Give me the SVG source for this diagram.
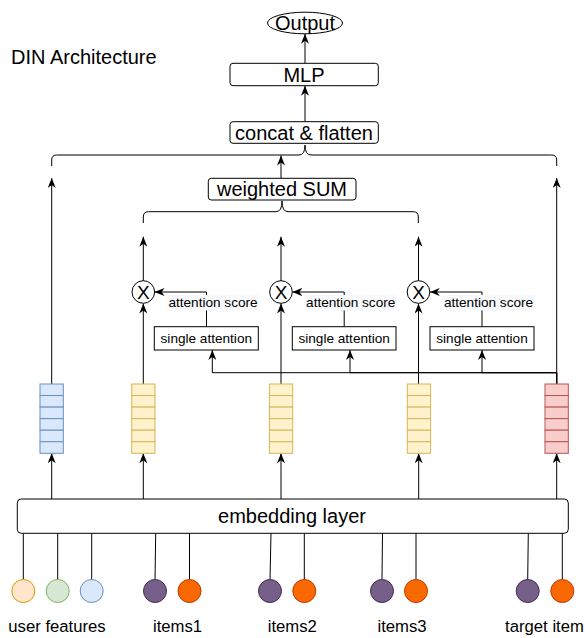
<svg xmlns="http://www.w3.org/2000/svg" width="585" height="638" viewBox="0 0 585 638">
<defs>
<marker id="arr" viewBox="0 0 10 8" markerWidth="10" markerHeight="8" refX="10" refY="4" orient="auto" markerUnits="userSpaceOnUse"><path d="M0,0 L10,4 L0,8 L3,4 Z" fill="#000"/></marker>
<style>
text{font-family:"Liberation Sans",Arial,sans-serif;fill:#000}
.big{font-size:20px;text-anchor:middle}
.sm{font-size:13.6px;text-anchor:middle}
.lbl{font-size:16.7px;text-anchor:middle}
.box{fill:#fff;stroke:#000;stroke-width:1}
.edge{fill:none;stroke:#000;stroke-width:1}
.ar{marker-end:url(#arr)}
.lbg{fill:#f8f9fa;stroke:none}
.otimes{fill:#fff;stroke:#000;stroke-width:1}
</style>
<g id="cells">
<rect x="0" y="0" width="23.3" height="11.55"/>
<rect x="0" y="11.55" width="23.3" height="11.55"/>
<rect x="0" y="23.1" width="23.3" height="11.55"/>
<rect x="0" y="34.65" width="23.3" height="11.55"/>
<rect x="0" y="46.2" width="23.3" height="11.55"/>
<rect x="0" y="57.75" width="23.3" height="11.55"/>
</g>
</defs>
<rect width="585" height="638" fill="#fff"/>

<g id="connectors">
<!-- top chain -->
<line class="edge ar" x1="305" y1="63.3" x2="305" y2="33.8"/>
<line class="edge ar" x1="305" y1="121.7" x2="305" y2="85.7"/>
<path class="edge" d="M51.7,166 L51.7,160 Q51.7,155 56.7,155 L299,155 Q305,155 305,145 Q305,155 311,155 L551.7,155 Q556.7,155 556.7,160 L556.7,166"/>
<line class="edge ar" x1="281" y1="178.3" x2="281" y2="155.5"/>
<path class="edge" d="M143.3,223 L143.3,217 Q143.3,211.7 148.3,211.7 L276,211.7 Q282,211.7 282,201 Q282,211.7 288,211.7 L413.3,211.7 Q418.3,211.7 418.3,217 L418.3,223"/>
<!-- side lines -->
<line class="edge ar" x1="51.7" y1="384" x2="51.7" y2="178"/>
<line class="edge ar" x1="556.7" y1="384" x2="556.7" y2="178"/>
<!-- otimes up arrows -->
<line class="edge ar" x1="143.3" y1="281" x2="143.3" y2="236.7"/>
<line class="edge ar" x1="281" y1="281" x2="281" y2="236.7"/>
<line class="edge ar" x1="418.5" y1="281" x2="418.5" y2="236.7"/>
<!-- vectors to otimes -->
<line class="edge ar" x1="143.3" y1="384" x2="143.3" y2="303.5"/>
<line class="edge ar" x1="281" y1="384" x2="281" y2="303.5"/>
<line class="edge ar" x1="418.5" y1="384" x2="418.5" y2="303.5"/>
<!-- attention score arrows -->
<path class="edge ar" d="M206.5,326.7 L206.5,292 L154.6,292"/>
<path class="edge ar" d="M344.2,326.7 L344.2,292 L292.3,292"/>
<path class="edge ar" d="M482,326.7 L482,292 L429.8,292"/>
<!-- target to attention -->
<path class="edge ar" d="M556.7,384 L556.7,372.7 L212.3,372.7 L212.3,350"/>
<path class="edge ar" d="M556.7,384 L556.7,372.7 L350,372.7 L350,350"/>
<path class="edge ar" d="M556.7,384 L556.7,372.7 L482,372.7 L482,350"/>
<!-- embedding to vectors -->
<line class="edge ar" x1="51.7" y1="499" x2="51.7" y2="453.3"/>
<line class="edge ar" x1="143.3" y1="499" x2="143.3" y2="453.3"/>
<line class="edge ar" x1="281" y1="499" x2="281" y2="453.3"/>
<line class="edge ar" x1="418.7" y1="499" x2="418.7" y2="453.3"/>
<line class="edge ar" x1="556.7" y1="499" x2="556.7" y2="453.3"/>
<!-- inputs to embedding -->
<line class="edge" x1="23.3" y1="579.5" x2="23.3" y2="533.3"/>
<line class="edge" x1="57.7" y1="579.5" x2="57.7" y2="533.3"/>
<line class="edge" x1="91.7" y1="579.5" x2="91.7" y2="533.3"/>
<line class="edge" x1="155" y1="579.5" x2="155.7" y2="533.3"/>
<line class="edge" x1="189.5" y1="579.5" x2="189.5" y2="533.3"/>
<line class="edge" x1="270" y1="579.5" x2="271" y2="533.3"/>
<line class="edge" x1="304.3" y1="579.5" x2="304.3" y2="533.3"/>
<line class="edge" x1="382" y1="579.5" x2="382.5" y2="533.3"/>
<line class="edge" x1="416" y1="579.5" x2="416" y2="533.3"/>
<line class="edge" x1="527.7" y1="579.5" x2="528.3" y2="533.3"/>
<line class="edge" x1="562.3" y1="579.5" x2="562.3" y2="533.3"/>
</g>

<g id="title"><text x="11" y="64" style="font-size:20px">DIN Architecture</text></g>

<g id="output"><ellipse cx="305" cy="23" rx="37.5" ry="10.8" class="box"/><text class="big" x="305" y="29.8">Output</text></g>
<g id="mlp"><rect x="230" y="63.3" width="148.3" height="22.4" rx="3" class="box"/><text class="big" x="304" y="81.7">MLP</text></g>
<g id="concat"><rect x="230" y="121.7" width="148.3" height="21.6" rx="3" class="box"/><text class="big" x="304" y="139.6">concat &amp; flatten</text></g>
<g id="wsum"><rect x="208.3" y="178.3" width="147.7" height="21.7" rx="3" class="box"/><text class="big" x="282" y="196.2">weighted SUM</text></g>

<g id="mul1"><circle cx="143.3" cy="292" r="11.3" class="otimes"/><text class="big" x="143.3" y="298.8" style="font-size:19px">X</text></g>
<g id="mul2"><circle cx="281" cy="292" r="11.3" class="otimes"/><text class="big" x="281" y="298.8" style="font-size:19px">X</text></g>
<g id="mul3"><circle cx="418.5" cy="292" r="11.3" class="otimes"/><text class="big" x="418.5" y="298.8" style="font-size:19px">X</text></g>

<g id="score1"><rect class="lbg" x="167" y="295" width="92" height="15.5"/><text class="sm" x="213" y="307.4">attention score</text></g>
<g id="score2"><rect class="lbg" x="304.7" y="295" width="92" height="15.5"/><text class="sm" x="350.7" y="307.4">attention score</text></g>
<g id="score3"><rect class="lbg" x="442.5" y="295" width="92" height="15.5"/><text class="sm" x="488.5" y="307.4">attention score</text></g>

<g id="att1"><rect x="154.3" y="326.7" width="104" height="23.3" class="box"/><text class="sm" x="206.3" y="343.3">single attention</text></g>
<g id="att2"><rect x="292.3" y="326.7" width="103.7" height="23.3" class="box"/><text class="sm" x="344.2" y="343.3">single attention</text></g>
<g id="att3"><rect x="430" y="326.7" width="104" height="23.3" class="box"/><text class="sm" x="482" y="343.3">single attention</text></g>

<g id="vec-user"><use href="#cells" x="40" y="384" fill="#dae8fc" stroke="#6c8ebf"/></g>
<g id="vec-item1"><use href="#cells" x="131.7" y="384" fill="#fff2cc" stroke="#d6b656"/></g>
<g id="vec-item2"><use href="#cells" x="269.4" y="384" fill="#fff2cc" stroke="#d6b656"/></g>
<g id="vec-item3"><use href="#cells" x="407.3" y="384" fill="#fff2cc" stroke="#d6b656"/></g>
<g id="vec-target"><use href="#cells" x="545" y="384" fill="#f8cecc" stroke="#b85450"/></g>

<g id="embedding"><rect x="17.3" y="499" width="551" height="34.3" rx="4" class="box"/><text class="big" x="292" y="523.3">embedding layer</text></g>

<g id="user-features">
<circle cx="23.3" cy="591" r="11.5" fill="#ffe6cc" stroke="#d79b00"/>
<circle cx="57.7" cy="591" r="11.5" fill="#d5e8d4" stroke="#82b366"/>
<circle cx="91.7" cy="591" r="11.5" fill="#dae8fc" stroke="#6c8ebf"/>
<text class="lbl" x="57" y="631.5">user features</text>
</g>
<g id="items1">
<circle cx="155" cy="591" r="11.5" fill="#76608a" stroke="#432d57"/>
<circle cx="189.5" cy="591" r="11.5" fill="#fa6800" stroke="#c73500"/>
<text class="lbl" x="177.5" y="631.5">items1</text>
</g>
<g id="items2">
<circle cx="270" cy="591" r="11.5" fill="#76608a" stroke="#432d57"/>
<circle cx="304.3" cy="591" r="11.5" fill="#fa6800" stroke="#c73500"/>
<text class="lbl" x="292.3" y="631.5">items2</text>
</g>
<g id="items3">
<circle cx="382" cy="591" r="11.5" fill="#76608a" stroke="#432d57"/>
<circle cx="416" cy="591" r="11.5" fill="#fa6800" stroke="#c73500"/>
<text class="lbl" x="402" y="631.5">items3</text>
</g>
<g id="target-item">
<circle cx="527.7" cy="591" r="11.5" fill="#76608a" stroke="#432d57"/>
<circle cx="562.3" cy="591" r="11.5" fill="#fa6800" stroke="#c73500"/>
<text class="lbl" x="544.5" y="631.5">target item</text>
</g>
</svg>
